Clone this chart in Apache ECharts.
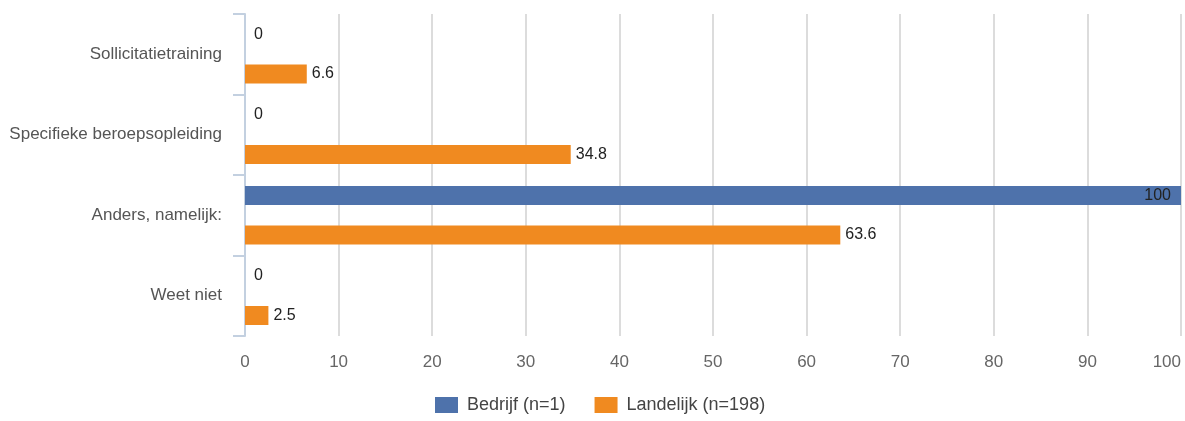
<!DOCTYPE html>
<html>
<head>
<meta charset="utf-8">
<script src="https://cdn.jsdelivr.net/npm/echarts@6/dist/echarts.min.js"></script>
<style>
  html, body { margin: 0; padding: 0; background: #fff; }
  #chart { width: 1185px; height: 421px; }
</style>
</head>
<body>
<div id="chart"></div>
<script>
// Training categories and percentages per group
const categories = ['Sollicitatietraining', 'Specifieke beroepsopleiding', 'Anders, namelijk:', 'Weet niet'];
const bedrijf = [0, 0, 100, 0];
const landelijk = [6.6, 34.8, 63.6, 2.5];
const seriesNames = ['Bedrijf (n=1)', 'Landelijk (n=198)'];

const FONT = '"Liberation Sans", Arial, sans-serif';

// Bars that reach the right edge get their value label inside the bar
function withLabels(values) {
  return values.map(v => v >= 95
    ? { value: v, label: { position: 'insideRight', distance: 10 } }
    : v);
}

const chart = echarts.init(document.getElementById('chart'));
chart.setOption({
  animation: false,
  textStyle: { fontFamily: FONT },
  grid: { left: 245, right: 4, top: 14, bottom: 85, containLabel: false, outerBoundsMode: 'none' },
  legend: {
    top: 396,
    left: 435,
    padding: 0,
    itemWidth: 23,
    itemHeight: 16,
    itemGap: 29,
    icon: 'rect',
    textStyle: { fontFamily: FONT, fontSize: 18, color: '#444', padding: [0, 0, 0, 4] },
    data: seriesNames
  },
  xAxis: {
    type: 'value',
    min: 0,
    max: 100,
    interval: 10,
    axisLine: { show: false },
    axisTick: { show: false },
    axisLabel: { fontFamily: FONT, fontSize: 17, color: '#666', margin: 18, alignMaxLabel: 'right' },
    splitLine: { show: true, lineStyle: { color: '#dcdcdc', width: 2 } }
  },
  yAxis: {
    type: 'category',
    inverse: true,
    data: categories,
    axisLine: { show: true, lineStyle: { color: '#c3d0e0', width: 2 } },
    axisTick: { show: true, length: 12, lineStyle: { color: '#c3d0e0', width: 2 } },
    axisLabel: { fontFamily: FONT, fontSize: 17, color: '#555', margin: 23 }
  },
  series: [
    {
      name: seriesNames[0],
      type: 'bar',
      data: withLabels(bedrijf),
      barWidth: 19,
      barGap: '108%',
      itemStyle: { color: '#4e72ab' },
      label: { show: true, position: 'right', distance: 9, fontFamily: FONT, fontSize: 16, color: '#222' }
    },
    {
      name: seriesNames[1],
      type: 'bar',
      data: withLabels(landelijk),
      barWidth: 19,
      itemStyle: { color: '#f08a20' },
      label: { show: true, position: 'right', distance: 5, fontFamily: FONT, fontSize: 16, color: '#222' }
    }
  ]
});
</script>
</body>
</html>
